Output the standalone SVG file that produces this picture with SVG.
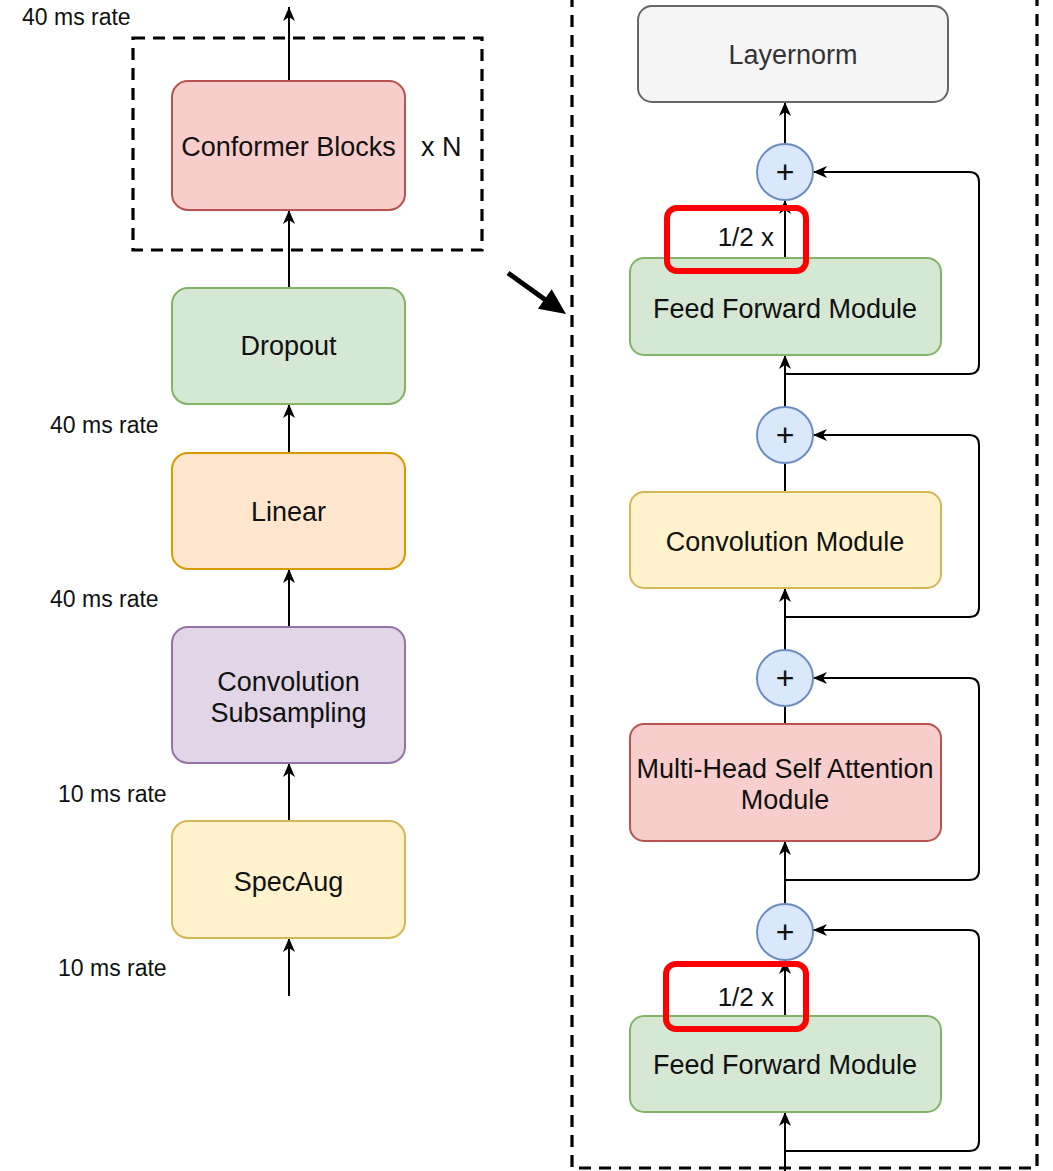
<svg xmlns="http://www.w3.org/2000/svg" width="1053" height="1171" viewBox="0 0 1053 1171">
  <defs>
    <marker id="arr" viewBox="0 0 14 12" markerWidth="14" markerHeight="12" refX="14" refY="6" orient="auto" markerUnits="userSpaceOnUse">
      <path d="M0,0 L14,6 L0,12 L4,6 z" fill="#000"/>
    </marker>
    <style>
      text { font-family: "Liberation Sans", Arial, Helvetica, sans-serif; fill: #111; }
      .lbl { font-size: 27px; text-anchor: middle; }
      .rate { font-size: 23px; }
      .plus { font-size: 32px; text-anchor: middle; }
      .node { stroke-width: 2; }
      .dash { fill: none; stroke: #000; stroke-width: 3.2; stroke-dasharray: 12 8; }
      .edge { fill: none; stroke: #000; stroke-width: 2; }
      .circ { fill: #dae8fc; stroke: #6c8ebf; stroke-width: 2; }
      .hl { fill: none; stroke: #ff0000; stroke-width: 6; }
    </style>
  </defs>
  <rect width="1053" height="1171" fill="#fff"/>

  <!-- dashed containers -->
  <rect class="dash" x="133" y="38" width="349" height="212"/>
  <path class="dash" d="M572,-5 V1168 H1037 V-5"/>

  <!-- connectors -->
  <g id="connectors">
    <!-- left column -->
    <line class="edge" x1="289" y1="81" x2="289" y2="7" marker-end="url(#arr)"/>
    <line class="edge" x1="289" y1="288" x2="289" y2="210" marker-end="url(#arr)"/>
    <line class="edge" x1="289" y1="453" x2="289" y2="404" marker-end="url(#arr)"/>
    <line class="edge" x1="289" y1="627" x2="289" y2="569" marker-end="url(#arr)"/>
    <line class="edge" x1="289" y1="821" x2="289" y2="763" marker-end="url(#arr)"/>
    <line class="edge" x1="289" y1="996" x2="289" y2="938" marker-end="url(#arr)"/>

    <!-- big diagonal arrow -->
    <line x1="508" y1="273" x2="547" y2="301" stroke="#000" stroke-width="5"/>
    <polygon points="566,314 537.9,308.8 551.7,289.2" fill="#000"/>

    <!-- right column main path -->
    <line class="edge" x1="785" y1="1175" x2="785" y2="1112" marker-end="url(#arr)"/>
    <line class="edge" x1="785" y1="1016" x2="785" y2="960" marker-end="url(#arr)"/>
    <line class="edge" x1="785" y1="904" x2="785" y2="841" marker-end="url(#arr)"/>
    <line class="edge" x1="785" y1="724" x2="785" y2="706"/>
    <line class="edge" x1="785" y1="650" x2="785" y2="588" marker-end="url(#arr)"/>
    <line class="edge" x1="785" y1="492" x2="785" y2="463"/>
    <line class="edge" x1="785" y1="408" x2="785" y2="355" marker-end="url(#arr)"/>
    <line class="edge" x1="785" y1="258" x2="785" y2="200" marker-end="url(#arr)"/>
    <line class="edge" x1="785" y1="144" x2="785" y2="102" marker-end="url(#arr)"/>

    <!-- residual skips -->
    <path class="edge" d="M785,1151 H969 Q979,1151 979,1141 V940 Q979,930 969,930 H813" marker-end="url(#arr)"/>
    <path class="edge" d="M785,880 H969 Q979,880 979,870 V688 Q979,678 969,678 H813" marker-end="url(#arr)"/>
    <path class="edge" d="M785,617 H969 Q979,617 979,607 V445 Q979,435 969,435 H813" marker-end="url(#arr)"/>
    <path class="edge" d="M785,374 H969 Q979,374 979,364 V182 Q979,172 969,172 H813" marker-end="url(#arr)"/>
  </g>

  <!-- left column nodes -->
  <g id="conformer-blocks">
    <rect class="node" x="172" y="81" width="233" height="129" rx="16" fill="#f8cecc" stroke="#b85450"/>
    <text class="lbl" x="288.5" y="156">Conformer Blocks</text>
  </g>
  <g id="xN">
    <text x="421" y="156" style="font-size:27px">x N</text>
  </g>
  <g id="dropout">
    <rect class="node" x="172" y="288" width="233" height="116" rx="16" fill="#d5e8d4" stroke="#82b366"/>
    <text class="lbl" x="288.5" y="355">Dropout</text>
  </g>
  <g id="linear">
    <rect class="node" x="172" y="453" width="233" height="116" rx="16" fill="#ffe6cc" stroke="#d79b00"/>
    <text class="lbl" x="288.5" y="521">Linear</text>
  </g>
  <g id="conv-subsampling">
    <rect class="node" x="172" y="627" width="233" height="136" rx="16" fill="#e1d5e7" stroke="#9673a6"/>
    <text class="lbl" x="288.5" y="691">Convolution</text>
    <text class="lbl" x="288.5" y="722">Subsampling</text>
  </g>
  <g id="specaug">
    <rect class="node" x="172" y="821" width="233" height="117" rx="16" fill="#fff2cc" stroke="#d6b656"/>
    <text class="lbl" x="288.5" y="891">SpecAug</text>
  </g>

  <g id="rate-labels">
    <text class="rate" x="22" y="25">40 ms rate</text>
    <text class="rate" x="50" y="433">40 ms rate</text>
    <text class="rate" x="50" y="607">40 ms rate</text>
    <text class="rate" x="58" y="802">10 ms rate</text>
    <text class="rate" x="58" y="976">10 ms rate</text>
  </g>

  <!-- right column nodes -->
  <g id="layernorm">
    <rect class="node" x="638" y="6" width="310" height="96" rx="14" fill="#f5f5f5" stroke="#666666"/>
    <text class="lbl" x="793" y="64" style="fill:#333">Layernorm</text>
  </g>
  <g id="add1">
    <circle class="circ" cx="785" cy="172" r="28"/>
    <text class="plus" x="785" y="183">+</text>
  </g>
  <g id="ff-top">
    <rect class="node" x="630" y="258" width="311" height="97" rx="14" fill="#d5e8d4" stroke="#82b366"/>
    <text class="lbl" x="785" y="318">Feed Forward Module</text>
  </g>
  <g id="add2">
    <circle class="circ" cx="785" cy="435" r="28"/>
    <text class="plus" x="785" y="446">+</text>
  </g>
  <g id="conv-module">
    <rect class="node" x="630" y="492" width="311" height="96" rx="14" fill="#fff2cc" stroke="#d6b656"/>
    <text class="lbl" x="785" y="551">Convolution Module</text>
  </g>
  <g id="add3">
    <circle class="circ" cx="785" cy="678" r="28"/>
    <text class="plus" x="785" y="689">+</text>
  </g>
  <g id="mhsa">
    <rect class="node" x="630" y="724" width="311" height="117" rx="14" fill="#f8cecc" stroke="#b85450"/>
    <text class="lbl" x="785" y="778">Multi-Head Self Attention</text>
    <text class="lbl" x="785" y="809">Module</text>
  </g>
  <g id="add4">
    <circle class="circ" cx="785" cy="932" r="28"/>
    <text class="plus" x="785" y="943">+</text>
  </g>
  <g id="ff-bottom">
    <rect class="node" x="630" y="1016" width="311" height="96" rx="14" fill="#d5e8d4" stroke="#82b366"/>
    <text class="lbl" x="785" y="1074">Feed Forward Module</text>
  </g>

  <g id="half-top">
    <text x="774" y="246" style="font-size:26px;text-anchor:end">1/2 x</text>
    <rect class="hl" x="667" y="208" width="139" height="63" rx="10"/>
  </g>
  <g id="half-bottom">
    <text x="774" y="1006" style="font-size:26px;text-anchor:end">1/2 x</text>
    <rect class="hl" x="666" y="964" width="140" height="65" rx="10"/>
  </g>
</svg>
